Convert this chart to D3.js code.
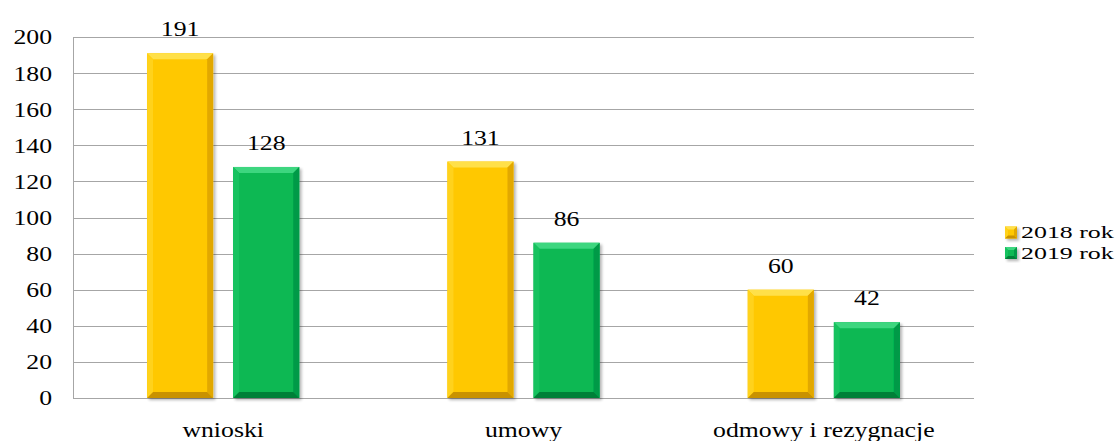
<!DOCTYPE html>
<html>
<head>
<meta charset="utf-8">
<script src="https://cdn.jsdelivr.net/npm/d3@7"></script>
<style>
  html, body { margin: 0; padding: 0; background: #fff; }
  svg { display: block; }
  text { font-family: "Liberation Serif", "Times New Roman", serif; fill: #000; }
</style>
</head>
<body>
<svg id="chart" width="1120" height="441"></svg>
<script>
const categories = ["wnioski", "umowy", "odmowy i rezygnacje"];
const seriesNames = ["2018 rok", "2019 rok"];
const values2018 = [191, 131, 60];
const values2019 = [128, 86, 42];
const yTicks = [0, 20, 40, 60, 80, 100, 120, 140, 160, 180, 200];

const W = 1120, H = 441;
const margin = { left: 73, right: 146, top: 37, bottom: 43 };
const svg = d3.select("#chart");
const SX = 1.17; // horizontal stretch of the text glyphs
const FS = 22;

const x0 = d3.scaleBand().domain(categories).range([margin.left, W - margin.right]).paddingInner(0).paddingOuter(0);
const x1 = d3.scaleBand().domain(seriesNames).range([0, x0.bandwidth()]).paddingInner(0.2326).paddingOuter(0.86);
const y = d3.scaleLinear().domain([0, 200]).range([H - margin.bottom, margin.top]);

const palette = {
  "2018 rok": { main: "#FFC800", light: "#FFD21A", lighter: "#FFE04A", dark: "#E2A800", darker: "#C99200" },
  "2019 rok": { main: "#07B853", light: "#14C25E", lighter: "#3ED67F", dark: "#049A46", darker: "#028038" }
};

// gridlines
const grid = svg.append("g");
grid.selectAll("line").data(yTicks).join("line")
  .attr("x1", margin.left).attr("x2", W - margin.right)
  .attr("y1", d => Math.round(y(d)) + 0.5).attr("y2", d => Math.round(y(d)) + 0.5)
  .attr("stroke", "#a6a6a6").attr("stroke-width", 1);
svg.append("line")
  .attr("x1", margin.left + 0.5).attr("x2", margin.left + 0.5)
  .attr("y1", y(200)).attr("y2", y(0))
  .attr("stroke", "#a6a6a6");

// y tick labels
svg.append("g").selectAll("text").data(yTicks).join("text")
  .attr("transform", d => `translate(52,${y(d)}) scale(${SX},1)`)
  .attr("text-anchor", "end").attr("dy", "0.34em")
  .style("font-size", FS + "px")
  .text(d => d);

const data = categories.map((c, i) => ({ cat: c, vals: [
  { s: seriesNames[0], v: values2018[i] },
  { s: seriesNames[1], v: values2019[i] }
]}));

const defs = svg.append("defs");
const f = defs.append("filter").attr("id", "shadow").attr("x", "-20%").attr("y", "-20%").attr("width", "150%").attr("height", "150%");
f.append("feGaussianBlur").attr("in", "SourceAlpha").attr("stdDeviation", 1.6);
f.append("feOffset").attr("dx", 2).attr("dy", 2).attr("result", "b");
f.append("feComponentTransfer").append("feFuncA").attr("type", "linear").attr("slope", 0.3);
const fm = f.append("feMerge");
fm.append("feMergeNode");
fm.append("feMergeNode").attr("in", "SourceGraphic");

function bevelBar(g, bx, by, bw, bh, col, b) {
  const grp = g.append("g").attr("filter", "url(#shadow)");
  grp.append("rect").attr("x", bx).attr("y", by).attr("width", bw).attr("height", bh).attr("fill", col.main);
  const bb = Math.min(b, bw / 2, bh / 2);
  const pts = (arr) => arr.map(p => p.join(",")).join(" ");
  grp.append("polygon").attr("points", pts([[bx, by], [bx + bw, by], [bx + bw - bb, by + bb], [bx + bb, by + bb]])).attr("fill", col.lighter);
  grp.append("polygon").attr("points", pts([[bx, by], [bx + bb, by + bb], [bx + bb, by + bh - bb], [bx, by + bh]])).attr("fill", col.light);
  grp.append("polygon").attr("points", pts([[bx + bw, by], [bx + bw, by + bh], [bx + bw - bb, by + bh - bb], [bx + bw - bb, by + bb]])).attr("fill", col.dark);
  grp.append("polygon").attr("points", pts([[bx, by + bh], [bx + bb, by + bh - bb], [bx + bw - bb, by + bh - bb], [bx + bw, by + bh]])).attr("fill", col.darker);
}

const barsG = svg.append("g");
data.forEach(d => {
  d.vals.forEach(v => {
    const bx = x0(d.cat) + x1(v.s);
    const by = y(v.v);
    const bh = y(0) - y(v.v);
    bevelBar(barsG, bx, by, x1.bandwidth(), bh, palette[v.s], 6);
    svg.append("text")
      .attr("transform", `translate(${bx + x1.bandwidth() / 2},${by - 17}) scale(${SX},1)`)
      .attr("text-anchor", "middle")
      .style("font-size", FS + "px")
      .text(v.v);
  });
});

// category labels
svg.append("g").selectAll("text").data(categories).join("text")
  .attr("transform", d => `translate(${x0(d) + x0.bandwidth() / 2},437) scale(${SX},1)`)
  .attr("text-anchor", "middle")
  .style("font-size", FS + "px")
  .text(d => d);

// legend
const legend = svg.append("g");
seriesNames.forEach((s, i) => {
  const ly = 232.5 + i * 20.5;
  bevelBar(legend, 1005, ly - 6, 12, 12, palette[s], 3);
  legend.append("text")
    .attr("transform", `translate(1021,${ly}) scale(1.48,1)`)
    .attr("dy", "0.34em")
    .style("font-size", "17.5px")
    .text(s);
});
</script>
</body>
</html>
